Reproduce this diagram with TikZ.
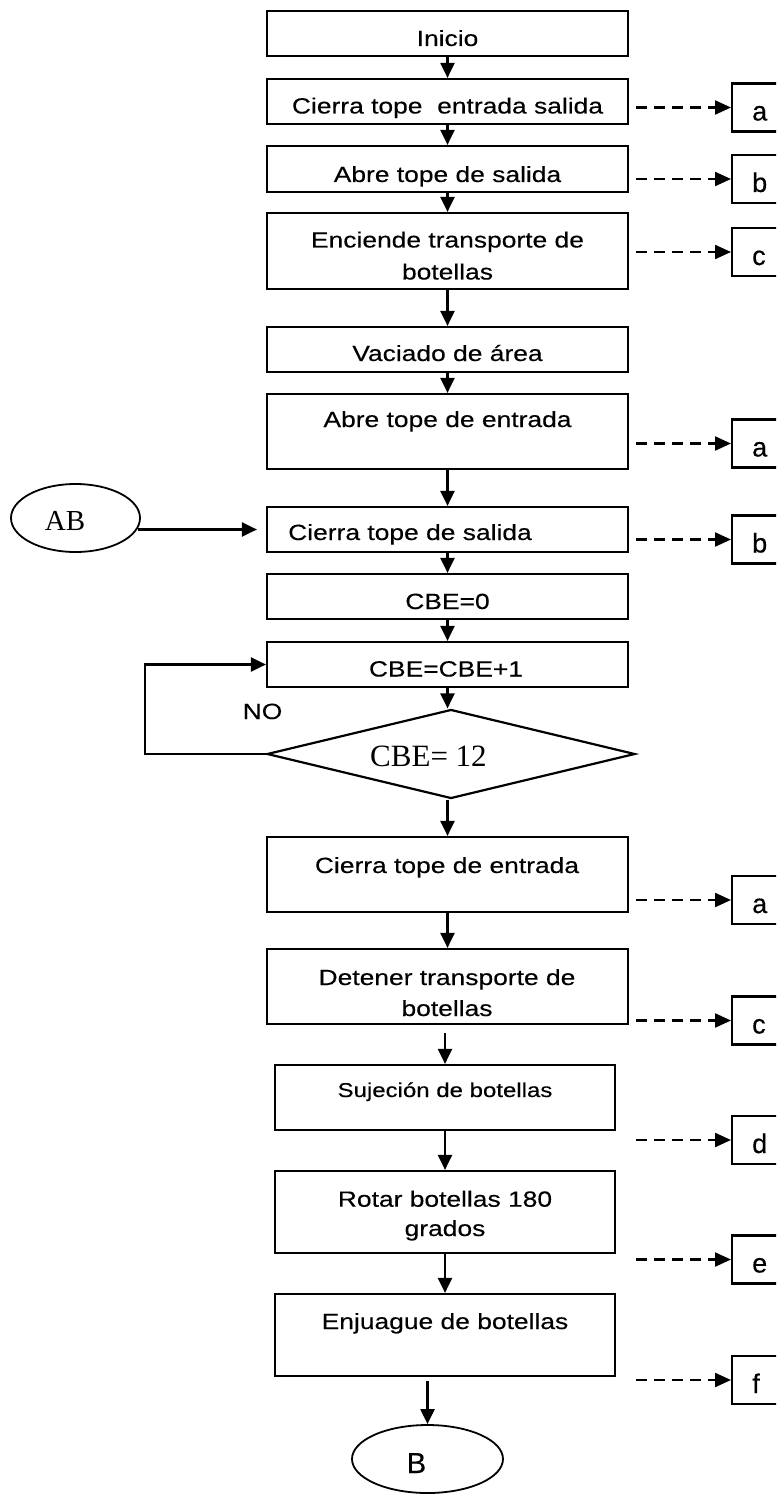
\documentclass[tikz,border=0pt]{standalone}
\usepackage{fontspec}
\setmainfont{Liberation Sans}
\newfontfamily\wide[FakeStretch=1.2,FakeBold=0.3]{Liberation Sans}
\newfontfamily\lett[FakeBold=0.3]{Liberation Sans}
\newfontfamily\tms{Liberation Serif}
\usetikzlibrary{arrows.meta,shapes.geometric}
\tikzset{
 box/.style={draw, line width=2.2pt, rectangle, inner sep=0pt},
 wbox/.style={box, minimum width=361pt},
 nbox/.style={box, minimum width=340pt},
 tx/.style={inner sep=0pt, anchor=base, font=\wide\fontsize{22}{26}\selectfont},
 arr/.style={line width=2.2pt, -{Triangle[length=15pt,width=14pt]}},
 darr/.style={line width=2.2pt, dash pattern=on 11pt off 7pt, -{Triangle[length=16pt,width=14pt]}},
 lbox/.style={draw, line width=2.2pt, minimum width=80pt, minimum height=48pt, anchor=west, inner sep=0pt},
 ltx/.style={inner sep=0pt, anchor=base west, font=\lett\fontsize{27}{30}\selectfont},
 oval/.style={draw, ellipse, line width=1.8pt, inner sep=0pt},
}
\newcommand\mkside[3]{%
 \node[lbox] (#1) at (731,#2) {};
 \node[ltx] (#1t) at (752,#2+13) {#3};
 \coordinate (#1s) at (636,#2);
 \draw[darr] (#1s) -- (#1.west);
}
\begin{document}
\begin{tikzpicture}[x=1pt,y=-1pt]
\useasboundingbox (0,0) rectangle (776,1495);
\clip (0,0) rectangle (776,1495);
% main boxes
\node[wbox, minimum height=45pt] (inicio) at (447.5,33.5) {};
\node[wbox, minimum height=45pt] (cte) at (447.5,101.5) {};
\node[wbox, minimum height=46pt] (ats) at (447.5,169) {};
\node[wbox, minimum height=76pt] (etb) at (447.5,251) {};
\node[wbox, minimum height=45pt] (vac) at (447.5,349.5) {};
\node[wbox, minimum height=75pt] (ate) at (447.5,431.5) {};
\node[wbox, minimum height=45pt] (cts) at (447.5,529.5) {};
\node[wbox, minimum height=45pt] (cbe0) at (447.5,596.5) {};
\node[wbox, minimum height=45pt] (cbe1) at (447.5,664.5) {};
\node[draw, diamond, line width=2.2pt, minimum width=368pt, minimum height=89pt, inner sep=0pt, aspect=4.1] (dia) at (451,754) {};
\node[wbox, minimum height=75pt] (cte2) at (447.5,874.5) {};
\node[wbox, minimum height=75pt] (det) at (447.5,986.5) {};
\node[nbox, minimum height=65pt] (suj) at (445,1097.5) {};
\node[nbox, minimum height=82pt] (rot) at (445,1212) {};
\node[nbox, minimum height=82pt] (enj) at (445,1335) {};
\node[oval, minimum width=151pt, minimum height=68pt] (B) at (427.5,1459) {};
\node[oval, minimum width=129pt, minimum height=68pt] (AB) at (75.5,518) {};
% texts
\node[tx] (t1) at (447.5,46) {Inicio};
\node[tx] (t2) at (447.5,113.5) {Cierra tope\ \ entrada salida};
\node[tx] (t3) at (447.5,182) {Abre tope de salida};
\node[tx] (t4a) at (447.5,247.5) {Enciende transporte de};
\node[tx] (t4b) at (447.5,279.5) {botellas};
\node[tx] (t5) at (447.5,361) {Vaciado de área};
\node[tx] (t6) at (447.5,427) {Abre tope de entrada};
\node[tx, anchor=base west] (t7) at (288,540) {Cierra tope de salida};
\node[tx] (t8) at (447.5,609) {CBE=0};
\node[tx] (t9) at (446,676.5) {CBE=CBE+1};
\node[tx, anchor=base west] (no) at (242.5,719) {NO};
\node[inner sep=0pt, anchor=base west, font=\tms\fontsize{31}{34}\selectfont] (t10) at (370,766.7) {CBE= 12};
\node[tx] (t11) at (447,873) {Cierra tope de entrada};
\node[tx] (t12a) at (447,985) {Detener transporte de};
\node[tx] (t12b) at (447,1016) {botellas};
\node[tx, font=\wide\fontsize{20}{24}\selectfont] (t13) at (445,1097) {Sujeción de botellas};
\node[tx] (t14a) at (445,1206.7) {Rotar botellas 180};
\node[tx] (t14b) at (445,1236) {grados};
\node[tx] (t15) at (445,1329) {Enjuague de botellas};
\node[inner sep=0pt, anchor=base, font=\lett\fontsize{29}{32}\selectfont] (tB) at (416.5,1473) {B};
\node[inner sep=0pt, anchor=base, font=\tms\fontsize{29}{32}\selectfont] (tAB) at (65,530) {AB};
% main flow
\draw[arr] (inicio.south) -- (cte.north);
\draw[arr] (cte.south) -- (ats.north);
\draw[arr] (ats.south) -- (etb.north);
\draw[arr] (etb.south) -- (vac.north);
\draw[arr] (vac.south) -- (ate.north);
\draw[arr] (ate.south) -- (cts.north);
\draw[arr] (cts.south) -- (cbe0.north);
\draw[arr] (cbe0.south) -- (cbe1.north);
\draw[arr] (cbe1.south) -- (cbe1.south |- dia.north);
\draw[arr] (dia.south -| cte2.north) -- (cte2.north);
\draw[arr] (cte2.south) -- (det.north);
\draw[arr] ([yshift=-8pt]det.south -| suj.north) -- (suj.north);
\draw[arr] (suj.south) -- (rot.north);
\draw[arr] (rot.south) -- (enj.north);
\draw[arr] ([yshift=-4pt]enj.south -| B.north) -- (B.north);
% loop and entry
\draw[arr] (dia.west) -- ++(-121,0) |- (cbe1.west);
\draw[arr] ([xshift=-3pt]AB.east |- cts.west) -- ([xshift=-9pt]cts.west);
% side outputs
\mkside{sa}{107.5}{a}
\mkside{sb}{179}{b}
\mkside{sc}{252}{c}
\mkside{sa2}{443.5}{a}
\mkside{sb2}{539.5}{b}
\mkside{sa3}{900}{a}
\mkside{sc2}{1020.5}{c}
\mkside{sd}{1140}{d}
\mkside{se}{1259.5}{e}
\mkside{sf}{1380}{f}
\end{tikzpicture}
\end{document}
